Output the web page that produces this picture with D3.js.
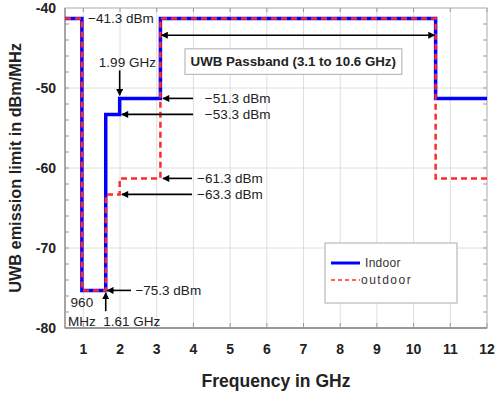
<!DOCTYPE html>
<html><head><meta charset="utf-8">
<script src="https://cdn.jsdelivr.net/npm/d3@7"></script>
<style>
body{margin:0;background:#fff;}
text{font-family:"Liberation Sans",Arial,sans-serif;}
</style></head>
<body><svg id="c" width="495" height="396"></svg>
<script>
// Data
const freqEdges = [0.5, 0.96, 1.61, 1.99, 3.1, 10.6, 12];
const indoor = [-41.3, -75.3, -53.3, -51.3, -41.3, -51.3];
const outdoor = [-41.3, -75.3, -63.3, -61.3, -41.3, -61.3];
const xTicks = [1,2,3,4,5,6,7,8,9,10,11,12];
const yTicks = [-40,-50,-60,-70,-80];
const seriesNames = ["Indoor", "outdoor"];

const svg = d3.select("#c");
const M = {l:65, r:487, t:8, b:328};
const x = d3.scaleLinear().domain([0.5,12]).range([M.l, M.r]);
const y = d3.scaleLinear().domain([-80,-40]).range([M.b, M.t]);

// defs
const defs = svg.append("defs");
defs.append("marker").attr("id","ah").attr("viewBox","0 0 10 10").attr("refX",9).attr("refY",5)
  .attr("markerWidth",9).attr("markerHeight",7).attr("markerUnits","userSpaceOnUse").attr("orient","auto-start-reverse")
  .append("path").attr("d","M0,0L10,5L0,10Z").attr("fill","#000");
defs.append("clipPath").attr("id","clip").append("rect").attr("x",M.l).attr("y",M.t).attr("width",M.r-M.l).attr("height",M.b-M.t);

// grid
const g = svg.append("g");
g.selectAll(".gx").data(xTicks.filter(d=>d<12)).join("line").attr("x1",d=>x(d)).attr("x2",d=>x(d))
  .attr("y1",M.t).attr("y2",M.b).attr("stroke","#dedede").attr("stroke-width",1);
g.selectAll(".gy").data(yTicks.filter(d=>d>-80&&d<-40)).join("line").attr("y1",d=>y(d)).attr("y2",d=>y(d))
  .attr("x1",M.l).attr("x2",M.r).attr("stroke","#dedede").attr("stroke-width",1);

// minor ticks on y (every 2 dB) inside left and right
const minor = d3.range(-78,-40,2);
g.selectAll(".ml").data(minor).join("line").attr("x1",M.l).attr("x2",M.l+4).attr("y1",d=>y(d)).attr("y2",d=>y(d)).attr("stroke","#999");
g.selectAll(".mr").data(minor).join("line").attr("x1",M.r).attr("x2",M.r-4).attr("y1",d=>y(d)).attr("y2",d=>y(d)).attr("stroke","#999");
g.selectAll(".mt").data(xTicks).join("line").attr("x1",d=>x(d)).attr("x2",d=>x(d)).attr("y1",M.t).attr("y2",M.t+4).attr("stroke","#999");
g.selectAll(".mb").data(xTicks).join("line").attr("x1",d=>x(d)).attr("x2",d=>x(d)).attr("y1",M.b).attr("y2",M.b-5).attr("stroke","#999");

// frame
svg.append("rect").attr("x",M.l).attr("y",M.t).attr("width",M.r-M.l).attr("height",M.b-M.t)
  .attr("fill","none").attr("stroke","#aaa").attr("stroke-width",1);
svg.append("line").attr("x1",M.l).attr("x2",M.r).attr("y1",M.b).attr("y2",M.b).attr("stroke","#999").attr("stroke-width",2);
svg.append("line").attr("x1",M.l).attr("x2",M.l).attr("y1",M.t).attr("y2",M.b).attr("stroke","#999").attr("stroke-width",1.5);

// axes labels
svg.append("g").selectAll("text").data(xTicks).join("text").attr("x",d=>x(d)).attr("y",354)
  .attr("text-anchor","middle").attr("font-size",14).attr("font-weight","bold").attr("fill","#222").text(d=>d);
svg.append("g").selectAll("text").data(yTicks).join("text").attr("x",56).attr("y",d=>y(d)+5)
  .attr("text-anchor","end").attr("font-size",14).attr("font-weight","bold").attr("fill","#222").text(d=>d);
svg.append("text").attr("x",(M.l+M.r)/2).attr("y",387).attr("text-anchor","middle")
  .attr("font-size",17.5).attr("font-weight","bold").attr("fill","#222").text("Frequency in GHz");
svg.append("text").attr("transform",`translate(21,${(M.t+M.b)/2}) rotate(-90)`).attr("text-anchor","middle")
  .attr("font-size",16.3).attr("font-weight","bold").attr("fill","#222").text("UWB emission limit in dBm/MHz");

// series
function pts(vals){ const p = vals.map((v,i)=>[freqEdges[i], v]); p.push([freqEdges[freqEdges.length-1], vals[vals.length-1]]); return p; }
const line = d3.line().x(d=>x(d[0])).y(d=>y(d[1])).curve(d3.curveStepAfter);
const lines = svg.append("g").attr("clip-path","url(#clip)");
lines.append("path").attr("d",line(pts(indoor))).attr("fill","none").attr("stroke","#0000ff").attr("stroke-width",3.5);
lines.append("path").attr("d",line(pts(outdoor))).attr("fill","none").attr("stroke","#ff2a2a").attr("stroke-width",2.5)
  .attr("stroke-dasharray","6,4");

// annotations
const ann = svg.append("g").attr("fill","#222").attr("font-size",13.5);
function arrow(x1,y1,x2,y2,both){
  const l = ann.append("line").attr("x1",x(x1)).attr("y1",y(y1)).attr("x2",x(x2)).attr("y2",y(y2))
    .attr("stroke","#000").attr("stroke-width",1.6).attr("marker-end","url(#ah)");
  if(both) l.attr("marker-start","url(#ah)");
}
function label(t,xv,yv,anchor){
  ann.append("text").attr("x",x(xv)).attr("y",y(yv)).attr("dy","0.35em").attr("text-anchor",anchor||"start").text(t);
}
label("\u221241.3 dBm",1.13,-41.3);
arrow(3.13,-43.4,10.57,-43.4,true);
svg.append("rect").attr("x",x(3.77)).attr("y",y(-45.1)).attr("width",x(9.68)-x(3.77)).attr("height",y(-48.3)-y(-45.1))
  .attr("fill","#fff").attr("stroke","#bbb").attr("stroke-width",1.2);
svg.append("text").attr("x",x(6.72)).attr("y",y(-46.7)).attr("dy","0.35em").attr("text-anchor","middle")
  .attr("font-size",13.3).attr("font-weight","bold").attr("fill","#222").text("UWB Passband (3.1 to 10.6 GHz)");
label("1.99 GHz",2.2,-46.75,"middle");
arrow(1.99,-47.8,1.99,-50.9);
label("\u221251.3 dBm",4.31,-51.3);
arrow(3.99,-51.3,3.17,-51.3);
label("\u221253.3 dBm",4.31,-53.3);
arrow(3.99,-53.3,2.05,-53.3);
label("\u221261.3 dBm",4.1,-61.3);
arrow(3.96,-61.3,3.17,-61.3);
label("\u221263.3 dBm",4.1,-63.3);
arrow(3.96,-63.3,2.05,-63.3);
label("\u221275.3 dBm",2.42,-75.3);
arrow(2.3,-75.3,1.65,-75.3);
label("960",0.96,-76.75,"middle");
label("MHz",0.96,-79.1,"middle");
label("1.61 GHz",1.54,-79.2);
arrow(1.61,-77.9,1.61,-75.6);

// legend
const lg = svg.append("g");
lg.append("rect").attr("x",325).attr("y",243).attr("width",132).attr("height",60).attr("fill","#fff").attr("stroke","#aaa");
const lgY = [263, 280];
lg.append("line").attr("x1",331).attr("x2",360).attr("y1",lgY[0]).attr("y2",lgY[0]).attr("stroke","#0000ff").attr("stroke-width",3);
lg.append("line").attr("x1",331).attr("x2",360).attr("y1",lgY[1]).attr("y2",lgY[1]).attr("stroke","#ff2a2a").attr("stroke-width",1.5).attr("stroke-dasharray","4,3");
lg.selectAll("text").data(seriesNames).join("text").attr("x",(d,i)=>i?361:365).attr("y",(d,i)=>lgY[i]).attr("dy","0.35em")
  .attr("font-size",12).attr("letter-spacing",(d,i)=>i?1.5:0.3).attr("fill","#333").text(d=>d);
</script></body></html>
